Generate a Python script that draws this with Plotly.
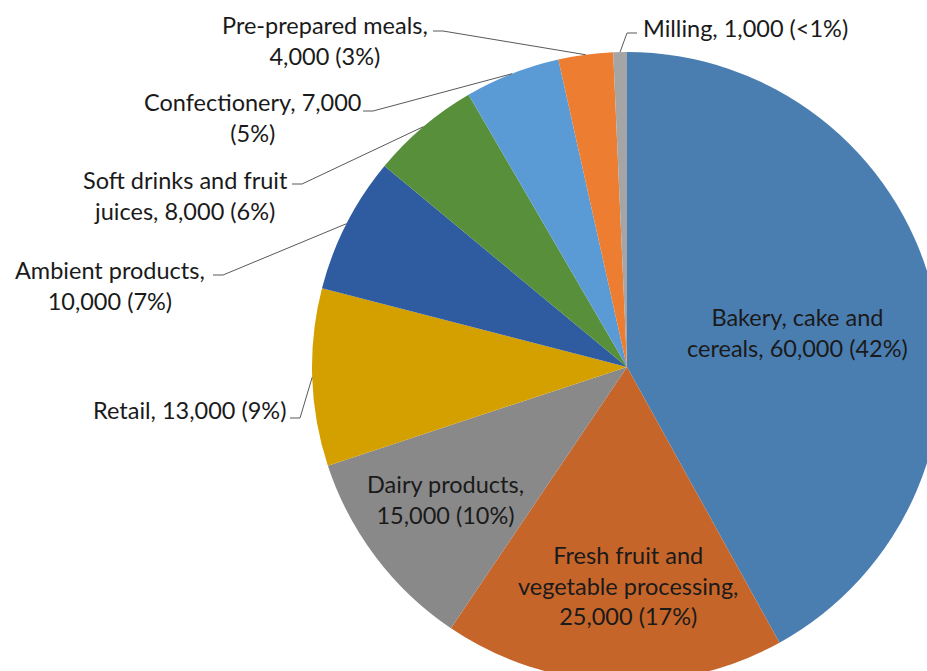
import math
import plotly.graph_objects as go

# Food-industry segments, clockwise from 12 o'clock
categories = [
    "Bakery, cake and cereals",
    "Fresh fruit and vegetable processing",
    "Dairy products",
    "Retail",
    "Ambient products",
    "Soft drinks and fruit juices",
    "Confectionery",
    "Pre-prepared meals",
    "Milling",
]
values = [60000, 25000, 15000, 13000, 10000, 8000, 7000, 4000, 1000]
colors = ["#4A7EB1", "#C5652A", "#898989", "#D4A000", "#2F5BA1",
          "#588F3A", "#5B9BD5", "#ED7D31", "#A5A5A5"]

# Label wording with line breaks; {v} = value, {p} = share of total
label_formats = [
    "Bakery, cake and<br>cereals, {v} ({p})",
    "Fresh fruit and<br>vegetable processing,<br>{v} ({p})",
    "Dairy products,<br>{v} ({p})",
    "Retail, {v} ({p})",
    "Ambient products,<br>{v} ({p})",
    "Soft drinks and fruit<br>juices, {v} ({p})",
    "Confectionery, {v}<br>({p})",
    "Pre-prepared meals,<br>{v} ({p})",
    "Milling, {v} ({p})",
]
outside = [False, False, False, True, True, True, True, True, True]

# Canvas and pie geometry (pixels)
W, H = 950, 700
CX, CY, R = 627, 367, 315

# Label block centres (pixels) and leader-line text ends for outside labels
label_pos = [(797, 332), (628, 585), (445, 499), (189, 410), (110, 285),
             (185, 195), (253, 117), (325, 40), (745, 28)]
leader_start = [None, None, None, (290, 418), (213, 275), (292, 184),
                (363, 111), (433, 31), (637, 33)]
leader_dir = [0, 0, 0, 1, 1, 1, 1, 1, -1]

total = sum(values)


def pct_text(v):
    p = v / total * 100
    return "<1%" if p < 1 else f"{round(p)}%"


def px(x, y):
    return x / W, 1 - y / H


fig = go.Figure(go.Pie(
    labels=categories,
    values=values,
    sort=False,
    direction="clockwise",
    rotation=0,
    marker=dict(colors=colors, line=dict(width=0)),
    textinfo="none",
    hoverinfo="label+value+percent",
    showlegend=False,
    domain=dict(x=[(CX - R) / W, (CX + R) / W],
                y=[1 - (CY + R) / H, 1 - (CY - R) / H]),
))

annotations = []
shapes = []
cum = 0
for i, v in enumerate(values):
    mid = (cum + v / 2) / total * 2 * math.pi
    cum += v
    text = label_formats[i].format(v=f"{v:,}", p=pct_text(v))
    lx, ly = px(*label_pos[i])
    annotations.append(dict(
        x=lx, y=ly, xref="paper", yref="paper", text=text,
        showarrow=False, align="center", xanchor="center", yanchor="middle",
        font=dict(family="Lato", size=23.5, color="#1A1A1A"),
    ))
    if outside[i]:
        # anchor on the slice rim at its mid-angle
        ax = CX + R * math.sin(mid)
        ay = CY - R * math.cos(mid)
        sx, sy = leader_start[i]
        ex = sx + 10 * leader_dir[i]
        p0 = px(sx, sy)
        p1 = px(ex, sy)
        p2 = px(ax, ay)
        shapes.append(dict(
            type="path", xref="paper", yref="paper",
            path=f"M {p0[0]} {p0[1]} L {p1[0]} {p1[1]} L {p2[0]} {p2[1]}",
            line=dict(color="#595959", width=1),
        ))

fig.update_layout(
    width=W, height=H,
    margin=dict(l=0, r=0, t=0, b=0),
    paper_bgcolor="white",
    plot_bgcolor="white",
    annotations=annotations,
    shapes=shapes,
)

fig.write_html(
    "out.html",
    post_script=("document.documentElement.style.overflow='hidden';"
                 "document.body.style.overflow='hidden';"
                 "document.body.style.margin='0';"),
)
